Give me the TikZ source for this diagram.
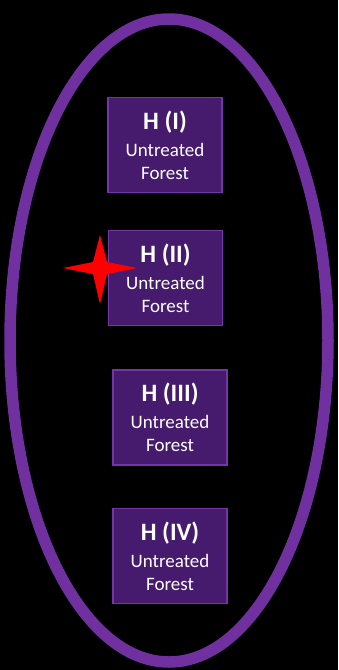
\documentclass[tikz,border=0pt]{standalone}
\usepackage{fontspec}
\setmainfont{Carlito}
\definecolor{ringpurple}{HTML}{7030A0}
\definecolor{boxfill}{HTML}{461A6C}
\definecolor{boxedge}{HTML}{7535A8}
\definecolor{starred}{HTML}{FF0000}
\newcommand{\htitle}[1]{{\bfseries\fontsize{25}{29}\selectfont #1}}
\begin{document}
\begin{tikzpicture}[x=1pt,y=-1pt,
  hbox/.style={draw=boxedge, line width=1.6pt, fill=boxfill, minimum width=114pt,
    minimum height=95pt, inner sep=0pt, text=white, align=center,
    font=\fontsize{19}{23}\selectfont}]
  % background
  \fill[black] (0,0) rectangle (338,670);
  \useasboundingbox (0,0) rectangle (338,670);
  % enclosing ring
  \draw[ringpurple, line width=11.5pt] (169,340.5) ellipse [x radius=159, y radius=321.5];
  % habitat boxes
  \node[hbox] (h1) at (165,145) {\htitle{H (I)}\\[4pt]Untreated\\Forest};
  \node[hbox] (h2) at (165.5,278) {\htitle{H (II)}\\[4pt]Untreated\\Forest};
  \node[hbox] (h3) at (170,417.5) {\htitle{H (III)}\\[4pt]Untreated\\Forest};
  \node[hbox] (h4) at (170,556) {\htitle{H (IV)}\\[4pt]Untreated\\Forest};
  % red four-pointed star marker
  \fill[starred] (63,268) -- (93,262) -- (100,235) -- (107,262) -- (137,268)
     -- (107,274) -- (100,304) -- (93,274) -- cycle;
\end{tikzpicture}
\end{document}
